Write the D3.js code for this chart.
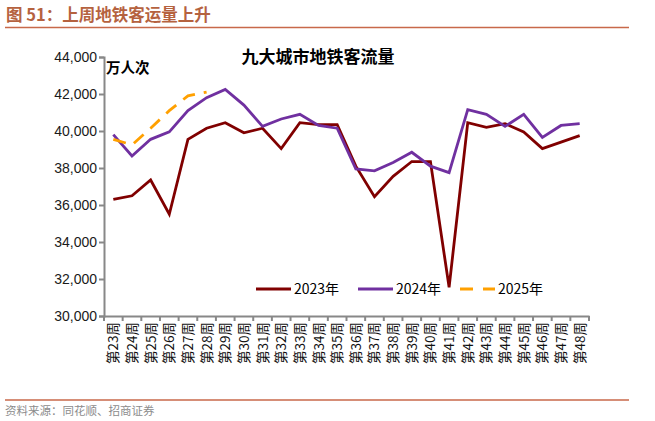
<!DOCTYPE html>
<html>
<head>
<meta charset="utf-8">
<script src="https://cdn.jsdelivr.net/npm/d3@7"></script>
<style>
  body { margin: 0; background: #fff; }
  text { font-family: "Liberation Sans", Arial, sans-serif; }
  .cjk { font-family: "Noto Sans CJK SC", sans-serif; }
</style>
</head>
<body>
<div id="chart"></div>
<script>
const weeks = ['第23周','第24周','第25周','第26周','第27周','第28周','第29周','第30周','第31周',
  '第32周','第33周','第34周','第35周','第36周','第37周','第38周','第39周','第40周','第41周',
  '第42周','第43周','第44周','第45周','第46周','第47周','第48周'];
const y2023 = [36300, 36500, 37350, 35500, 39550, 40150, 40450, 39900, 40150, 39050, 40450, 40350, 40350,
  38100, 36450, 37550, 38350, 38350, 31550, 40450, 40200, 40400, 39950, 39050, 39400, 39750];
const y2024 = [39800, 38650, 39550, 39950, 41100, 41800, 42250, 41400, 40250, 40650, 40900, 40300, 40150,
  37950, 37850, 38300, 38850, 38100, 37750, 41150, 40900, 40250, 40900, 39650, 40300, 40400];
const y2025 = [39550, 39250, 40150, 41100, 41900, 42100];
const yTicks = [30000, 32000, 34000, 36000, 38000, 40000, 42000, 44000];

const series = [
  { name: '2023年', values: y2023, color: '#800000', dash: null },
  { name: '2024年', values: y2024, color: '#7030a0', dash: null },
  { name: '2025年', values: y2025, color: '#ffa000', dash: '13,9' }
];

const W = 655, H = 421;
const svg = d3.select('#chart').append('svg').attr('width', W).attr('height', H);

// header
svg.append('text').attr('class', 'cjk').attr('x', 6).attr('y', 21)
  .attr('font-size', 16.5).attr('font-weight', 'bold').attr('fill', '#b5623f')
  .text('图 51：上周地铁客运量上升');
svg.append('line').attr('x1', 5).attr('x2', 629).attr('y1', 27.5).attr('y2', 27.5)
  .attr('stroke', '#c8694a').attr('stroke-width', 1.5);
svg.append('line').attr('x1', 5).attr('x2', 629).attr('y1', 400).attr('y2', 400)
  .attr('stroke', '#c8694a').attr('stroke-width', 1.5);
svg.append('text').attr('class', 'cjk').attr('x', 5).attr('y', 415)
  .attr('font-size', 11.5).attr('fill', '#8c8c8c')
  .text('资料来源：同花顺、招商证券');

const x = d3.scaleBand().domain(weeks).range([104, 589]);
const y = d3.scaleLinear().domain([30000, 44000]).range([316, 57]);

// y axis
const ya = svg.append('g').attr('transform', 'translate(104,0)')
  .call(d3.axisLeft(y).tickValues(yTicks).tickSize(5).tickFormat(d3.format(',')));
ya.select('.domain').attr('stroke', '#888').attr('stroke-width', 2);
ya.selectAll('.tick line').attr('stroke', '#888').attr('stroke-width', 2);
ya.selectAll('.tick text').attr('font-size', 14).attr('fill', '#1a1a1a').attr('x', -7)
  .attr('font-family', '"Liberation Sans", Arial, sans-serif');

// x axis
const xa = svg.append('g').attr('transform', 'translate(0,316)')
  .call(d3.axisBottom(x).tickSize(0).tickSizeOuter(0));
xa.select('.domain').attr('stroke', '#888').attr('stroke-width', 2);
xa.selectAll('.tick text').remove();
const edges = weeks.map(w => x(w)).concat([x.range()[1]]);
xa.selectAll('.edge').data(edges).join('line').attr('class', 'edge')
  .attr('x1', d => d).attr('x2', d => d).attr('y1', 0).attr('y2', 5)
  .attr('stroke', '#888').attr('stroke-width', 2);
xa.selectAll('.wk').data(weeks).join('text').attr('class', 'wk cjk')
  .attr('transform', d => `translate(${x(d) + x.bandwidth() / 2 + 5},6) rotate(-90)`)
  .attr('text-anchor', 'end').attr('font-size', 13.5).attr('fill', '#111')
  .text(d => d);

// titles
svg.append('text').attr('class', 'cjk').attr('x', 318).attr('y', 63)
  .attr('text-anchor', 'middle').attr('font-size', 17).attr('font-weight', 'bold')
  .attr('fill', '#000').text('九大城市地铁客流量');
svg.append('text').attr('class', 'cjk').attr('x', 106).attr('y', 73)
  .attr('font-size', 14.5).attr('font-weight', 'bold').attr('fill', '#000').text('万人次');

// lines
const line = d3.line()
  .x((d, i) => x(weeks[i]) + x.bandwidth() / 2)
  .y(d => y(d));
svg.selectAll('.series').data(series).join('path').attr('class', 'series')
  .attr('d', d => line(d.values))
  .attr('fill', 'none').attr('stroke', d => d.color).attr('stroke-width', 2.8)
  .attr('stroke-dasharray', d => d.dash);

// legend
const lx = [256, 358, 460];
const lg = svg.selectAll('.lg').data(series).join('g').attr('class', 'lg')
  .attr('transform', (d, i) => `translate(${lx[i]},289)`);
lg.append('line').attr('x1', 0).attr('x2', 35).attr('y1', 0).attr('y2', 0)
  .attr('stroke', d => d.color).attr('stroke-width', 3)
  .attr('stroke-dasharray', d => d.dash ? '13,10' : null);
lg.append('text').attr('class', 'cjk').attr('x', 38).attr('y', 5)
  .attr('font-size', 14).attr('fill', '#000').text(d => d.name);
</script>
</body>
</html>
